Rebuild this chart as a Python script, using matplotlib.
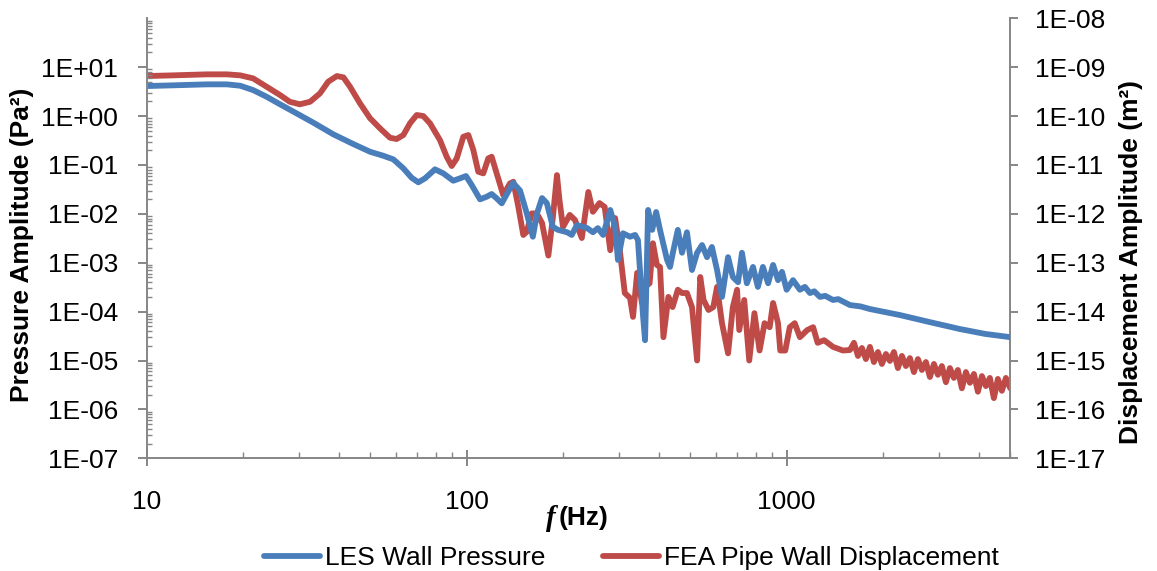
import math
import matplotlib
matplotlib.use("Agg")
import matplotlib.pyplot as plt
from matplotlib.ticker import FixedLocator, LogLocator, NullLocator, FuncFormatter, NullFormatter

plt.rcParams["font.family"] = ["Liberation Sans", "DejaVu Sans"]

# LES wall pressure spectrum (Pa^2)
les_freq = [10.0, 12.1, 15.4, 17.8, 19.6, 21.5, 23.7, 26.1, 29.4, 33.2, 38.3, 44.2, 49.9,
            54.9, 59.0, 63.4, 67.3, 70.6, 74.1, 79.6, 84.5, 90.8, 95.3, 99.5, 103.7,
            110.1, 115.5, 119.7, 124.1, 128.7, 139.6, 146.8, 154, 161, 166, 172, 178,
            186, 193, 206, 213, 221, 238, 248, 257, 267, 281, 291, 297, 308, 324, 336,
            343, 356, 361, 369, 380, 391, 402, 423, 432, 441, 457, 471, 488, 506, 525,
            544, 564, 584, 606, 628, 656, 679, 705, 725, 751, 785, 813, 843, 875, 907,
            940, 967, 1000, 1047, 1100, 1140, 1183, 1220, 1271, 1320, 1396, 1450, 1578,
            1700, 1820, 2260, 2800, 3480, 4170, 5000]
les_amp = [4.11, 4.25, 4.45, 4.45, 4.17, 3.40, 2.48, 1.74, 1.135, 0.73, 0.423, 0.268,
           0.186, 0.154, 0.130, 0.0852, 0.0547, 0.0441, 0.0532, 0.0813, 0.0673, 0.0475,
           0.0532, 0.0593, 0.0388, 0.0198, 0.0224, 0.0254, 0.0207, 0.0164, 0.043, 0.030,
           0.0104, 0.0034, 0.0104, 0.021, 0.0166, 0.0054, 0.0047, 0.0042, 0.0037, 0.0059,
           0.0051, 0.0042, 0.0051, 0.0037, 0.012, 0.0054, 0.00114, 0.0040, 0.0034,
           0.0037, 0.0029, 7.8e-5, 2.6e-5, 0.012, 0.0047, 0.0109, 0.0047, 0.00114,
           0.00082, 0.0016, 0.0047, 0.0016, 0.0042, 0.00071, 0.0016, 0.0023, 0.0013,
           0.0021, 0.00071, 0.0002, 0.0013, 0.00051, 0.0004, 0.0016, 0.00038, 0.00082,
           0.00032, 0.00082, 0.00038, 0.0009, 0.00044, 0.00065, 0.00028, 0.00044,
           0.00028, 0.00032, 0.00024, 0.00026, 0.0002, 0.00021, 1.73e-4, 1.8e-4,
           1.36e-4, 1.28e-4, 1.13e-4, 8.5e-5, 6.1e-5, 4.4e-5, 3.5e-5, 3.0e-5]

# FEA pipe wall displacement spectrum (m^2)
fea_freq = [10.0, 12.1, 15.4, 17.8, 19.6, 21.5, 23.7, 26.1, 28.0, 30.1, 32.4, 34.8, 36.9,
            39.3, 41.2, 43.2, 46.4, 49.9, 53.6, 57.6, 60.4, 63.4, 66.5, 69.8, 73.2, 76.8,
            82.5, 86.6, 89.8, 93.1, 97.6, 101.2, 104.9, 108.7, 112.7, 116.8, 119.7, 124.1,
            130.1, 136.6, 139.9, 145.0, 150.3, 154.0, 159.7, 165.6, 172, 180, 186, 191.5,
            195, 200, 210, 218, 229, 240, 248, 260, 270, 281, 291, 301, 312, 324, 331,
            341, 353, 361, 373, 382, 393, 402, 412, 427, 440, 457, 471, 488, 506, 525,
            537, 550, 570, 590, 606, 628, 656, 679, 700, 711, 737, 764, 793, 823, 853,
            885, 907, 940, 955, 990, 1023, 1060, 1100, 1160, 1210, 1250, 1310, 1396, 1500,
            1577, 1623, 1671, 1719, 1769, 1821, 1874, 1929, 1985, 2043, 2102, 2164, 2227,
            2292, 2359, 2428, 2499, 2572, 2647, 2724, 2804, 2886, 2970, 3056, 3146, 3238,
            3332, 3429, 3529, 3633, 3739, 3848, 3960, 4076, 4195, 4317, 4443, 4573, 4706,
            4844, 5000]
fea_amp = [6.58e-10, 6.80e-10, 7.13e-10, 7.13e-10, 6.80e-10, 5.90e-10, 3.97e-10, 2.69e-10,
           1.96e-10, 1.74e-10, 1.96e-10, 2.91e-10, 5.03e-10, 6.58e-10, 6.18e-10, 3.97e-10,
           1.82e-10, 9.0e-11, 5.6e-11, 3.6e-11, 3.39e-11, 4.09e-11, 7.1e-11, 1.05e-10,
           1.0e-10, 7.1e-11, 3.23e-11, 1.47e-11, 9.5e-12, 1.36e-11, 3.77e-11, 4.09e-11,
           2.02e-11, 7.26e-12, 6.73e-12, 1.36e-11, 1.47e-11, 6.73e-12, 2.42e-12, 4.2e-12,
           4.53e-12, 1.4e-12, 3.69e-13, 4.3e-13, 1.02e-12, 1.02e-12, 6.5e-13, 1.4e-13,
           8.6e-13, 6.2e-12, 1.9e-12, 5.4e-13, 9.5e-13, 7.5e-13, 3.2e-13, 2.8e-12,
           1.1e-12, 1.66e-12, 1.38e-12, 1.8e-13, 8.2e-13, 1.8e-13, 2.4e-14, 1.9e-14,
           7.8e-15, 6.2e-14, 1.5e-14, 3.2e-14, 3.8e-14, 2.5e-13, 9.0e-14, 8.2e-14,
           3.0e-15, 2.0e-14, 1.24e-14, 2.8e-14, 2.4e-14, 2.4e-14, 1.24e-14, 1.0e-15,
           5.1e-14, 1.73e-14, 1.08e-14, 1.24e-14, 3.2e-14, 5.8e-15, 1.4e-15, 1.24e-14,
           2.8e-14, 4.2e-15, 1.73e-14, 1.0e-15, 9.3e-15, 1.6e-15, 5.8e-15, 4.8e-15,
           1.5e-14, 5.8e-15, 1.6e-15, 1.6e-15, 4.8e-15, 5.8e-15, 3.0e-15, 4.2e-15,
           4.8e-15, 2.3e-15, 2.6e-15, 1.9e-15, 1.6e-15, 1.64e-15, 2.3e-15, 1.24e-15,
           1.8e-15, 1.07e-15, 1.9e-15, 9.3e-16, 1.49e-15, 8.5e-16, 1.36e-15, 9.8e-16,
           1.49e-15, 7.0e-16, 1.24e-15, 7.7e-16, 1.12e-15, 5.8e-16, 1.07e-15, 6.4e-16,
           9.3e-16, 4.6e-16, 8.5e-16, 5.1e-16, 7.7e-16, 3.6e-16, 7.0e-16, 4.4e-16,
           6.4e-16, 2.7e-16, 5.8e-16, 3.5e-16, 5.3e-16, 2.3e-16, 4.8e-16, 3.0e-16,
           4.4e-16, 1.7e-16, 4.2e-16, 2.4e-16, 4.4e-16, 2.7e-16]

left_ticks = [1e-7, 1e-6, 1e-5, 1e-4, 1e-3, 1e-2, 1e-1, 1e0, 1e1]
right_ticks = [1e-17, 1e-16, 1e-15, 1e-14, 1e-13, 1e-12, 1e-11, 1e-10, 1e-9, 1e-8]
x_ticks = [10, 100, 1000]

BLUE = "#4A7EBB"
RED = "#BE4B48"
GREY = "#868686"
FS = 19
LW = 4.2

fig = plt.figure(figsize=(11.57, 5.71), dpi=100)
ax = fig.add_axes([0.1268, 0.1974, 0.7464, 0.7706])
ax2 = ax.twinx()
ax.set_zorder(ax2.get_zorder() + 1)
ax.patch.set_visible(False)

ax2.plot(fea_freq, fea_amp, color=RED, lw=LW, solid_joinstyle="round",
         solid_capstyle="round", label="FEA Pipe Wall Displacement")
ax.plot(les_freq, les_amp, color=BLUE, lw=LW, solid_joinstyle="round",
        solid_capstyle="round", label="LES Wall Pressure")

for a in (ax, ax2):
    a.set_xscale("log")
    a.set_yscale("log")
    a.set_xlim(10, 5000)
ax.set_ylim(1e-7, 1e2)
ax2.set_ylim(1e-17, 1e-8)


def sci_label(v, pos):
    e = int(round(math.log10(v)))
    return f"1E{e:+03d}"


ax.yaxis.set_major_locator(FixedLocator(left_ticks))
ax.yaxis.set_major_formatter(FuncFormatter(sci_label))
ax.yaxis.set_minor_locator(LogLocator(base=10, subs=range(2, 10), numticks=20))
ax.yaxis.set_minor_formatter(NullFormatter())

ax2.yaxis.set_major_locator(FixedLocator(right_ticks))
ax2.yaxis.set_major_formatter(FuncFormatter(sci_label))
ax2.yaxis.set_minor_locator(NullLocator())

ax.xaxis.set_major_locator(FixedLocator(x_ticks))
ax.xaxis.set_major_formatter(FuncFormatter(lambda v, p: f"{int(v)}"))
ax.xaxis.set_minor_locator(LogLocator(base=10, subs=range(2, 10), numticks=20))
ax.xaxis.set_minor_formatter(NullFormatter())
ax2.xaxis.set_visible(False)

for s in ("top", "right"):
    ax.spines[s].set_visible(False)
for s in ("top", "left", "bottom"):
    ax2.spines[s].set_visible(False)
for sp in (ax.spines["left"], ax.spines["bottom"], ax2.spines["right"]):
    sp.set_color(GREY)
    sp.set_linewidth(1.4)

ax.tick_params(axis="y", which="major", direction="out", length=6.5, width=1.4,
               color=GREY, labelsize=FS, pad=14)
ax.tick_params(axis="y", which="minor", direction="in", length=3.8, width=1.0, color=GREY)
ax.tick_params(axis="x", which="major", direction="inout", length=11, width=1.4,
               color=GREY, labelsize=FS, pad=17)
ax.tick_params(axis="x", which="minor", direction="in", length=4.2, width=1.0, color=GREY)
ax2.tick_params(axis="y", which="major", direction="out", length=5.5, width=1.4,
                color=GREY, labelsize=FS, pad=12)

fig.text(22 / 1157, 1 - 245 / 571, "Pressure Amplitude (Pa²)", rotation=90,
         ha="center", va="center", fontsize=FS, fontweight="bold")
fig.text(1131 / 1157, 1 - 262 / 571, "Displacement Amplitude (m²)", rotation=90,
         ha="center", va="center", fontsize=FS, fontweight="bold")

fig.text(556 / 1157, 1 - 518 / 571, "f", ha="right", va="center", fontsize=FS + 2,
         fontweight="bold", style="italic", family=["Liberation Serif", "DejaVu Serif"])
fig.text(559 / 1157, 1 - 518 / 571, "(Hz)", ha="left", va="center", fontsize=FS,
         fontweight="bold")

h1, l1 = ax.get_legend_handles_labels()
h2, l2 = ax2.get_legend_handles_labels()
fig.legend(h1 + h2, l1 + l2, loc="center", bbox_to_anchor=(631.5 / 1157, 1 - 558 / 571),
           ncol=2, frameon=False, fontsize=FS, handlelength=2.1, handletextpad=0.2,
           columnspacing=2.2, borderaxespad=0, borderpad=0)

fig.savefig("out.png", dpi=100)
